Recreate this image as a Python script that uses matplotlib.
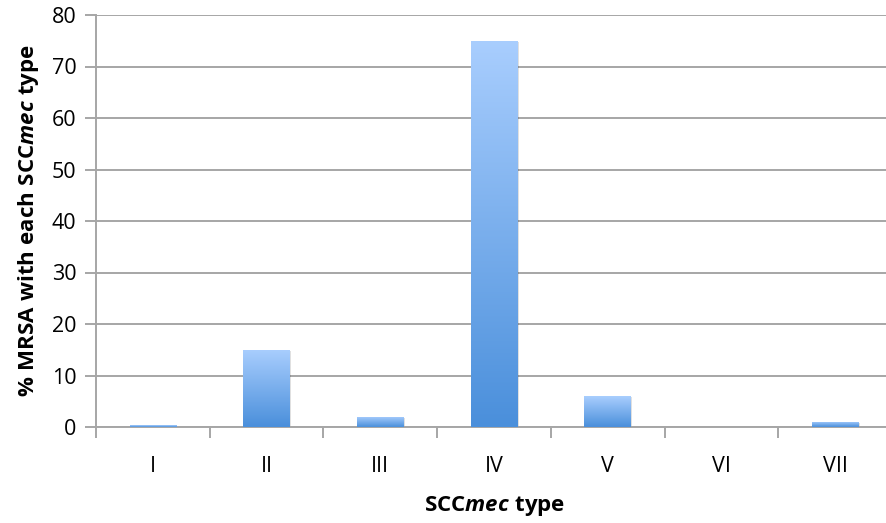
import numpy as np
import matplotlib
matplotlib.use("Agg")
import matplotlib.pyplot as plt
from matplotlib.colors import LinearSegmentedColormap

# SCCmec type distribution
types = ["I", "II", "III", "IV", "V", "VI", "VII"]
percent = [0.3, 15, 2, 75, 6, 0, 1]
y_ticks = [0, 10, 20, 30, 40, 50, 60, 70, 80]

plt.rcParams["font.family"] = ["Open Sans", "DejaVu Sans"]
plt.rcParams["mathtext.fontset"] = "custom"
plt.rcParams["mathtext.rm"] = "Open Sans"
plt.rcParams["mathtext.bf"] = "Open Sans:bold"
plt.rcParams["mathtext.it"] = "Open Sans:italic"
plt.rcParams["mathtext.bfit"] = "Open Sans:italic:bold"

grid_c = "#a6a6a6"

fig = plt.figure(figsize=(8.86, 5.23), dpi=100)
ax = fig.add_axes([96 / 886, 96 / 523, 796 / 886, 412 / 523])

x = np.arange(len(types))
bars = ax.bar(x, percent, width=0.41, color="none", edgecolor="none", zorder=3)

cmap = LinearSegmentedColormap.from_list("blue", ["#4a8fdb", "#a9cefe"])
grad = np.linspace(0, 1, 256).reshape(-1, 1)
for b, v in zip(bars, percent):
    if v <= 0:
        continue
    x0 = b.get_x()
    w = b.get_width()
    # soft drop shadow
    ax.add_patch(plt.Rectangle((x0 + 0.012, -0.25), w, v, color="#000000",
                               alpha=0.12, lw=0, zorder=2))
    im = ax.imshow(grad, cmap=cmap, aspect="auto", origin="lower",
                   extent=(x0, x0 + w, 0, v), zorder=3, interpolation="bilinear")
    im.set_clip_path(b)

ax.set_xlim(-0.5, len(types) - 0.5)
ax.set_ylim(0, 80)
ax.set_yticks(y_ticks)
ax.yaxis.grid(True, color=grid_c, lw=1.4, zorder=0)
ax.set_axisbelow(True)

# category boundaries get tick marks, labels sit at category centres
ax.set_xticks(np.arange(-0.5, len(types), 1.0))
ax.set_xticklabels([])
ax.set_xticks(x, minor=True)
ax.set_xticklabels(types, minor=True)
ax.tick_params(axis="x", which="major", length=8, width=1.4, color=grid_c, direction="out")
ax.tick_params(axis="x", which="minor", length=0, pad=21, labelsize=15.5)
ax.tick_params(axis="y", length=8, width=1.4, color=grid_c, direction="out",
               labelsize=15.5, pad=6)

for side in ["top", "right"]:
    ax.spines[side].set_visible(False)
for side in ["left", "bottom"]:
    ax.spines[side].set_color(grid_c)
    ax.spines[side].set_linewidth(1.4)

ax.set_xlabel(r"$\mathbf{SCC}\mathbfit{mec}\mathbf{\ type}$", fontsize=16, labelpad=12)
ax.set_ylabel(r"$\mathbf{\%\ MRSA\ with\ each\ SCC}\mathbfit{mec}\mathbf{\ type}$",
              fontsize=16, labelpad=8)

fig.savefig("out.png", dpi=100)
